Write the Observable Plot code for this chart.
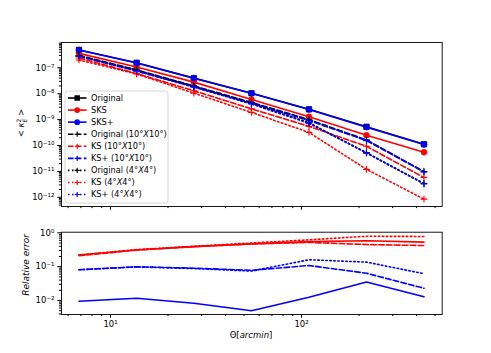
<!DOCTYPE html>
<html>
<head>
<meta charset="utf-8">
<script src="https://cdn.jsdelivr.net/npm/d3@7"></script>
<script src="https://cdn.jsdelivr.net/npm/@observablehq/plot@0.6"></script>
<style>
  body { margin: 0; background: #fff; }
  #chart { position: relative; width: 491px; height: 353px; background: #fff; font-family: "DejaVu Sans", sans-serif; }
  #chart svg { position: absolute; left: 0; overflow: visible; }
</style>
</head>
<body>
<div id="chart"></div>
<script>
// ---- data ----
const theta = [6.84, 13.7, 27.3, 54.7, 109.4, 218.8, 437.5];

const original = [4.9e-7, 1.56e-7, 4.0e-8, 1.04e-8, 2.5e-9, 5.3e-10, 1.12e-10];
const sks      = [3.6e-7, 1.07e-7, 2.8e-8, 6.0e-9, 1.3e-9, 2.5e-10, 5.5e-11];
const sksPlus  = [4.85e-7, 1.54e-7, 3.97e-8, 1.035e-8, 2.47e-9, 5.1e-10, 1.1e-10];
const orig10   = [3.0e-7, 8.3e-8, 2.0e-8, 4.6e-9, 1.0e-9, 1.65e-10, 9.8e-12];
const ks10     = [2.4e-7, 6.0e-8, 1.3e-8, 2.6e-9, 5.5e-10, 9.3e-11, 5.8e-12];
const ksPlus10 = [2.8e-7, 7.6e-8, 1.85e-8, 4.3e-9, 9.2e-10, 1.55e-10, 9.5e-12];
const orig4    = [2.9e-7, 8.0e-8, 1.9e-8, 4.2e-9, 7.6e-10, 5.3e-11, 3.4e-12];
const ks4      = [2.0e-7, 5.8e-8, 1.05e-8, 1.9e-9, 3.2e-10, 1.2e-11, 8.5e-13];
const ksPlus4  = [2.8e-7, 7.5e-8, 1.8e-8, 4.0e-9, 7.2e-10, 5.1e-11, 3.3e-12];

const errSKS     = [0.22, 0.31, 0.39, 0.47, 0.55, 0.58, 0.53];
const errKS10    = [0.21, 0.31, 0.39, 0.47, 0.52, 0.45, 0.42];
const errKS4     = [0.22, 0.32, 0.40, 0.50, 0.62, 0.79, 0.78];
const errSKSPlus = [0.0095, 0.0117, 0.0083, 0.0050, 0.0125, 0.035, 0.0129];
const errKSPlus10= [0.081, 0.099, 0.090, 0.078, 0.108, 0.064, 0.023];
const errKSPlus4 = [0.081, 0.098, 0.088, 0.074, 0.16, 0.136, 0.062];

const legendLabels = ["Original", "SKS", "SKS+", "Original (10°X10°)", "KS (10°X10°)", "KS+ (10°X10°)", "Original (4°X4°)", "KS (4°X4°)", "KS+ (4°X4°)"];

const xMajor = [10, 100];
const yMajorTop = [1e-12, 1e-11, 1e-10, 1e-9, 1e-8, 1e-7];
const yMajorBottom = [1e-2, 1e-1, 1];

// ---- styles ----
const DASH = "5.5,2.4";
const DOT = "1.5,2.5";
const topSeries = [
  {label: legendLabels[0], values: original, color: "#000000", dash: null, symbol: "square", r: 3.1},
  {label: legendLabels[1], values: sks,      color: "#ff0000", dash: null, symbol: "circle", r: 2.9},
  {label: legendLabels[2], values: sksPlus,  color: "#0000ff", dash: null, symbol: "circle", r: 2.9},
  {label: legendLabels[3], values: orig10,   color: "#000000", dash: DASH, symbol: "plus", r: 2.3},
  {label: legendLabels[4], values: ks10,     color: "#ff0000", dash: DASH, symbol: "plus", r: 2.3},
  {label: legendLabels[5], values: ksPlus10, color: "#0000ff", dash: DASH, symbol: "plus", r: 2.3},
  {label: legendLabels[6], values: orig4,    color: "#000000", dash: DOT,  symbol: "plus", r: 2.3},
  {label: legendLabels[7], values: ks4,      color: "#ff0000", dash: DOT,  symbol: "plus", r: 2.3},
  {label: legendLabels[8], values: ksPlus4,  color: "#0000ff", dash: DOT,  symbol: "plus", r: 2.3}
];
const bottomSeries = [
  {values: errSKS,      color: "#ff0000", dash: null},
  {values: errSKSPlus,  color: "#0000ff", dash: null},
  {values: errKS10,     color: "#ff0000", dash: DASH},
  {values: errKSPlus10, color: "#0000ff", dash: DASH},
  {values: errKS4,      color: "#ff0000", dash: DOT},
  {values: errKSPlus4,  color: "#0000ff", dash: DOT}
];

const supMap = {"-": "\u207B", "0": "\u2070", "1": "\u00B9", "2": "\u00B2", "3": "\u00B3", "4": "\u2074", "5": "\u2075", "6": "\u2076", "7": "\u2077", "8": "\u2078", "9": "\u2079"};
const fmtPow = d => "10" + String(Math.round(Math.log10(d))).split("").map(c => supMap[c]).join("");

function minorTicks(lo, hi) {
  const out = [];
  for (let e = Math.floor(Math.log10(lo)); e <= Math.ceil(Math.log10(hi)); e++) {
    for (let k = 2; k <= 9; k++) {
      const v = k * Math.pow(10, e);
      if (v >= lo && v <= hi) out.push(v);
    }
  }
  return out;
}

const xDomain = [5.54, 545];
const topYDomain = [Math.pow(10, -12.355), Math.pow(10, -6.023)];
const botYDomain = [Math.pow(10, -2.414), Math.pow(10, 0.018)];

const rows = vals => theta.map((t, i) => ({t, v: vals[i]}));
const baseStyle = {fontFamily: "DejaVu Sans, sans-serif", fontSize: "8.5px", background: "transparent", overflow: "visible"};

// ---- top panel ----
const topMarks = [];
for (const s of topSeries) {
  topMarks.push(Plot.line(rows(s.values), {x: "t", y: "v", stroke: s.color, strokeWidth: 1.6, strokeDasharray: s.dash ?? undefined}));
  if (s.symbol === "plus") {
    topMarks.push(Plot.dot(rows(s.values), {x: "t", y: "v", symbol: "plus", r: s.r, stroke: s.color, strokeWidth: 1.1}));
  } else {
    topMarks.push(Plot.dot(rows(s.values), {x: "t", y: "v", symbol: s.symbol, r: s.r, fill: s.color, stroke: s.color, strokeWidth: 0.6}));
  }
}

const topPlot = Plot.plot({
  width: 491, height: 212,
  marginTop: 42, marginBottom: 6, marginLeft: 61, marginRight: 49.3,
  style: baseStyle,
  x: {type: "log", domain: xDomain},
  y: {type: "log", domain: topYDomain},
  marks: [
    ...topMarks,
    Plot.axisX({ticks: xMajor, tickFormat: () => "", tickSize: 3.7, label: null}),
    Plot.axisX({ticks: minorTicks(xDomain[0], xDomain[1]), tickFormat: () => "", tickSize: 2.1, label: null}),
    Plot.axisY({ticks: yMajorTop, tickFormat: fmtPow, tickSize: 3.7, tickPadding: 3.5, fontSize: 8.5, label: null}),
    Plot.axisY({ticks: minorTicks(topYDomain[0], topYDomain[1]), tickFormat: () => "", tickSize: 2.1, label: null}),
    Plot.frame({stroke: "#000", strokeWidth: 0.9})
  ]
});
topPlot.style.top = "0px";

// ---- bottom panel ----
const botMarks = bottomSeries.map(s =>
  Plot.line(rows(s.values), {x: "t", y: "v", stroke: s.color, strokeWidth: 1.6, strokeDasharray: s.dash ?? undefined})
);
const botPlot = Plot.plot({
  width: 491, height: 141,
  marginTop: 19.7, marginBottom: 39, marginLeft: 61, marginRight: 49.3,
  style: baseStyle,
  x: {type: "log", domain: xDomain},
  y: {type: "log", domain: botYDomain},
  marks: [
    ...botMarks,
    Plot.axisX({ticks: xMajor, tickFormat: fmtPow, tickSize: 3.7, tickPadding: 3, fontSize: 8.5, label: null}),
    Plot.axisX({ticks: minorTicks(xDomain[0], xDomain[1]), tickFormat: () => "", tickSize: 2.1, label: null}),
    Plot.axisY({ticks: yMajorBottom, tickFormat: fmtPow, tickSize: 3.7, tickPadding: 3.5, fontSize: 8.5, label: null}),
    Plot.axisY({ticks: minorTicks(botYDomain[0], botYDomain[1]), tickFormat: () => "", tickSize: 2.1, label: null}),
    Plot.frame({stroke: "#000", strokeWidth: 0.9})
  ]
});
botPlot.style.top = "212px";

const chart = document.getElementById("chart");
chart.appendChild(topPlot);
chart.appendChild(botPlot);

// ---- axis labels ----
const tsvg = d3.select(topPlot);
const yl = tsvg.append("text")
  .attr("transform", "translate(24,123) rotate(-90)")
  .attr("text-anchor", "middle")
  .attr("font-family", "DejaVu Sans, sans-serif")
  .attr("font-size", 8.5)
  .attr("fill", "#000");
yl.append("tspan").text("< ");
yl.append("tspan").attr("font-style", "italic").text("\u03BA");
yl.append("tspan").attr("font-size", 6).attr("dy", -3.5).text("2");
yl.append("tspan").attr("font-size", 6).attr("font-style", "italic").attr("dx", -3.8).attr("dy", 6).text("E");
yl.append("tspan").attr("dy", -2.5).text(" >");

const bsvg = d3.select(botPlot);
bsvg.append("text")
  .attr("transform", "translate(29,53) rotate(-90)")
  .attr("text-anchor", "middle")
  .attr("font-family", "DejaVu Sans, sans-serif")
  .attr("font-size", 9)
  .attr("font-style", "italic")
  .attr("fill", "#000")
  .text("Relative error");
const xl = bsvg.append("text")
  .attr("x", 251).attr("y", 126)
  .attr("text-anchor", "middle")
  .attr("font-family", "DejaVu Sans, sans-serif")
  .attr("font-size", 8.5)
  .attr("fill", "#000");
xl.append("tspan").text("\u0398[");
xl.append("tspan").attr("font-style", "italic").text("arcmin");
xl.append("tspan").text("]");

// ---- legend ----
const lg = tsvg.append("g").attr("text-anchor", "start");
lg.append("rect")
  .attr("x", 65).attr("y", 91).attr("width", 103).attr("height", 112)
  .attr("rx", 2.5).attr("fill", "#fff").attr("fill-opacity", 0.8)
  .attr("stroke", "#cccccc").attr("stroke-width", 0.8);
topSeries.forEach((s, i) => {
  const cy = 98 + i * 12.07;
  lg.append("line")
    .attr("x1", 68).attr("x2", 86.5).attr("y1", cy).attr("y2", cy)
    .attr("stroke", s.color).attr("stroke-width", 1.6)
    .attr("stroke-dasharray", s.dash);
  if (s.symbol === "square") {
    lg.append("rect").attr("x", 77.2 - 2.75).attr("y", cy - 2.75).attr("width", 5.5).attr("height", 5.5).attr("fill", s.color);
  } else if (s.symbol === "circle") {
    lg.append("circle").attr("cx", 77.2).attr("cy", cy).attr("r", 2.9).attr("fill", s.color);
  } else {
    lg.append("path").attr("d", `M${77.2 - 2.6},${cy}H${77.2 + 2.6}M77.2,${cy - 2.6}V${cy + 2.6}`)
      .attr("stroke", s.color).attr("stroke-width", 1.1);
  }
  const t = lg.append("text")
    .attr("x", 91).attr("y", cy).attr("dy", "0.35em")
    .attr("text-anchor", "start")
    .attr("font-family", "DejaVu Sans, sans-serif").attr("font-size", 8.2)
    .attr("fill", "#000");
  // italic "X" as in the reference's mathtext
  const parts = s.label.split("X");
  parts.forEach((p, j) => {
    t.append("tspan").text(p);
    if (j < parts.length - 1) t.append("tspan").attr("font-style", "italic").text("X");
  });
});
</script>
</body>
</html>
